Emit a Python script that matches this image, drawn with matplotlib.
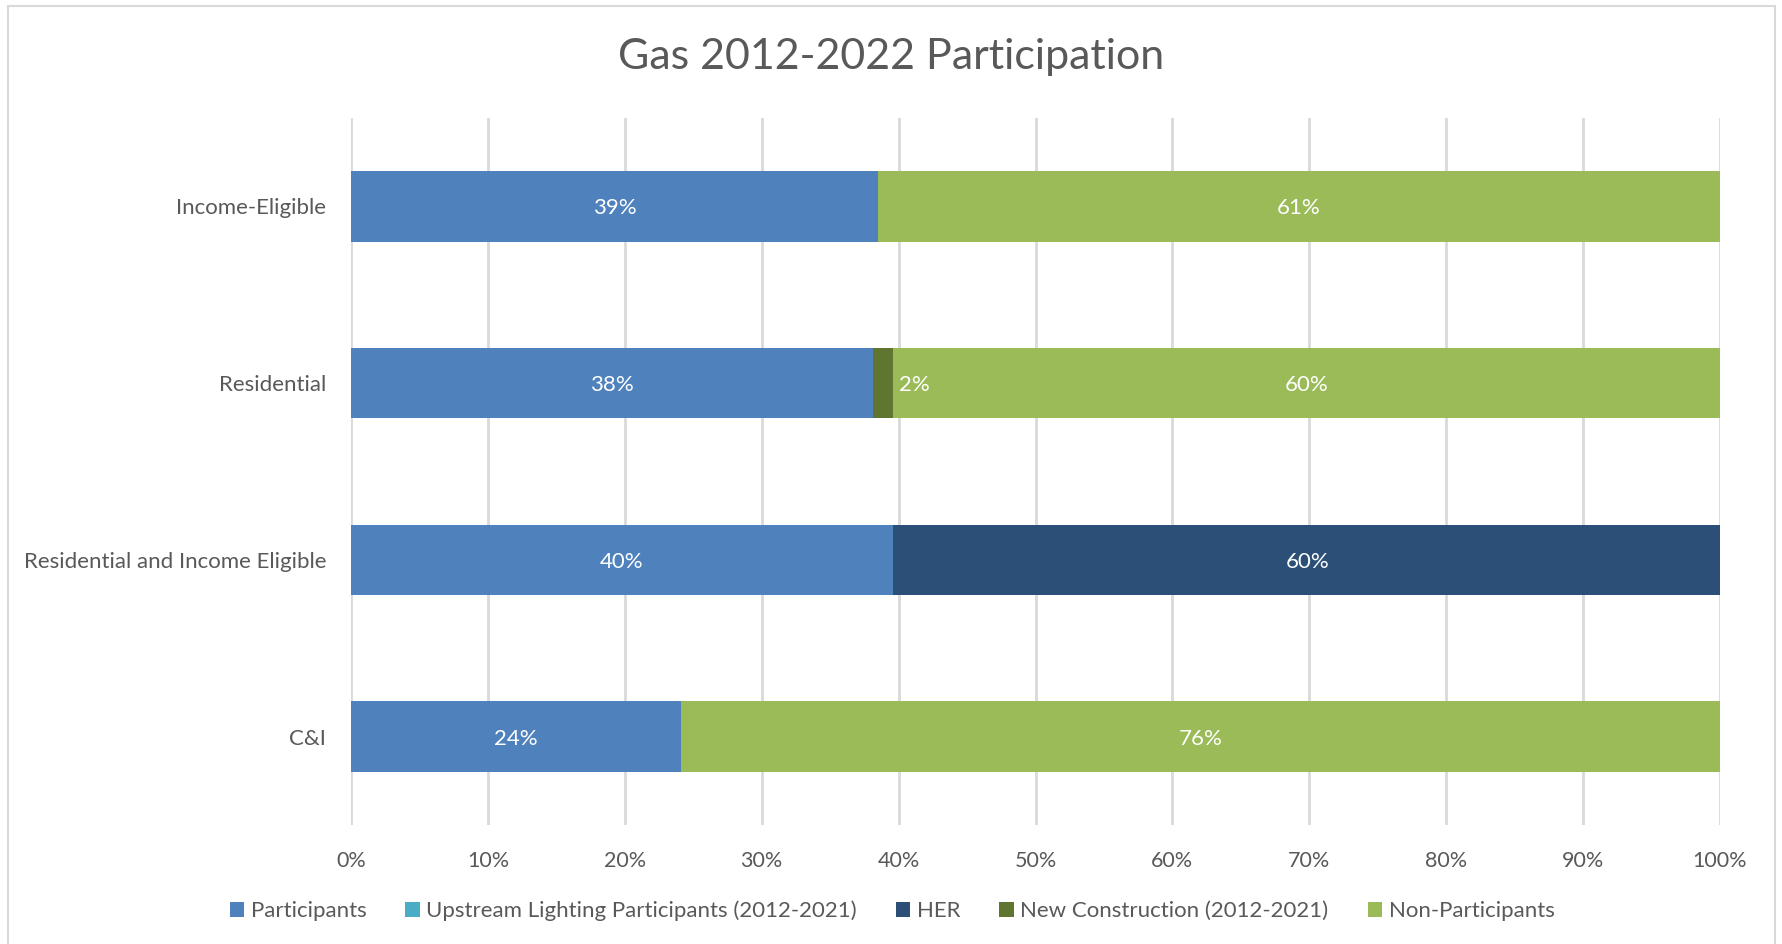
import matplotlib
matplotlib.use("Agg")
import matplotlib.pyplot as plt
from matplotlib.patches import Rectangle, Patch
import numpy as np

categories = ["Income-Eligible", "Residential", "Residential and Income Eligible", "C&I"]
series_names = ["Participants", "Upstream Lighting Participants (2012-2021)", "HER",
                "New Construction (2012-2021)", "Non-Participants"]
participants = [38.5, 38.1, 39.6, 24.1]
upstream = [0.0, 0.0, 0.0, 0.0]
her = [0.0, 0.0, 60.5, 0.0]
new_construction = [0.0, 1.5, 0.0, 0.0]
non_participants = [61.5, 60.4, 0.0, 75.9]
labels_participants = ["39%", "38%", "40%", "24%"]
labels_her = ["", "", "60%", ""]
labels_nc = ["", "2%", "", ""]
labels_non = ["61%", "60%", "", "76%"]

colors = ["#4F81BD", "#4BACC6", "#2C4F77", "#5F7530", "#9BBB59"]
text_color = "#595959"
font = ["Lato", "DejaVu Sans"]
plt.rcParams['font.family'] = font

W, H = 1782, 944
fig = plt.figure(figsize=(W / 100, H / 100), dpi=100)
ax = fig.add_axes([351 / W, 1 - 825 / H, (1720 - 351) / W, (825 - 118) / H])

y = np.arange(len(categories))
series = [participants, upstream, her, new_construction, non_participants]
left = np.zeros(len(categories))
bars = []
for vals, c in zip(series, colors):
    b = ax.barh(y, vals, left=left, height=0.4, color=c, zorder=3)
    bars.append(b)
    left = left + np.array(vals)

lab_fs = 16
for b, labs in [(bars[0], labels_participants), (bars[2], labels_her), (bars[4], labels_non)]:
    for rect, lab in zip(b, labs):
        if lab:
            ax.annotate(lab, (rect.get_x() + rect.get_width() / 2, rect.get_y() + rect.get_height() / 2),
                        xytext=(0, -1.5), textcoords="offset points",
                        ha="center", va="center", color="white", fontsize=lab_fs, zorder=4)
for rect, lab in zip(bars[3], labels_nc):
    if lab:
        ax.annotate(lab, (rect.get_x() + rect.get_width(), rect.get_y() + rect.get_height() / 2),
                    xytext=(4, -1.5), textcoords="offset points", ha="left", va="center",
                    color="white", fontsize=lab_fs, zorder=4)

ax.set_xlim(0, 100)
ax.set_ylim(len(categories) - 0.5, -0.5)
ax.set_xticks(np.arange(0, 101, 10))
ax.set_xticklabels([f"{v}%" for v in range(0, 101, 10)])
ax.set_yticks(y)
ax.set_yticklabels(categories)
ax.tick_params(axis="x", length=0, labelsize=15.5, labelcolor=text_color, pad=19)
ax.tick_params(axis="y", length=0, labelsize=16, labelcolor=text_color, pad=18)
ax.grid(axis="x", color="#D9D9D9", linewidth=2, zorder=0)
for s in ax.spines.values():
    s.set_visible(False)

fig.text(0.5, 1 - 57 / H, "Gas 2012-2022 Participation", ha="center", va="center",
         fontsize=31, color=text_color)

handles = [Patch(facecolor=c, edgecolor="none") for c in colors]
leg = fig.legend(handles, series_names, loc="center", bbox_to_anchor=(892 / W, 1 - 911 / H),
                 ncol=5, frameon=False, fontsize=16, handlelength=0.65, handleheight=0.65,
                 handletextpad=0.3, columnspacing=1.75)
for t in leg.get_texts():
    t.set_color(text_color)

fig.patches.append(Rectangle((8 / W, -0.05), (1775 - 8) / W, 1.05 - 6 / H, transform=fig.transFigure,
                             fill=False, edgecolor="#D9D9D9", linewidth=1.5))

fig.savefig("out.png", dpi=100, facecolor="white")
